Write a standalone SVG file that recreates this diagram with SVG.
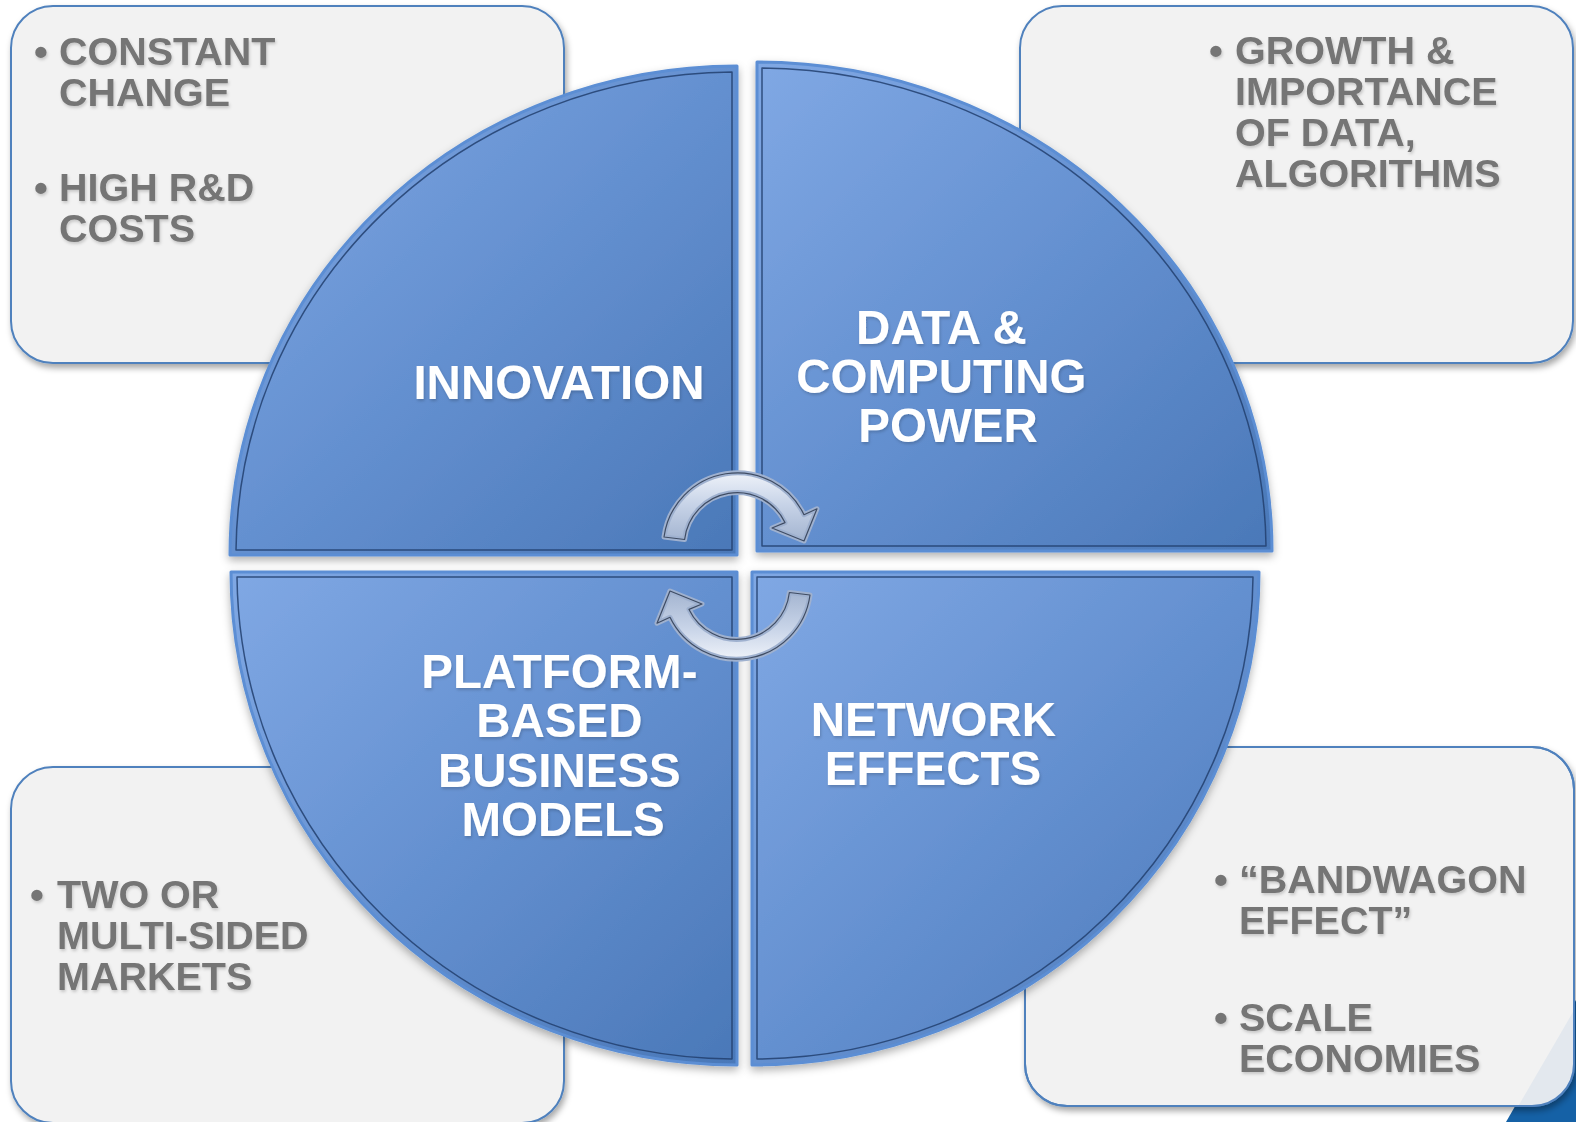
<svg xmlns="http://www.w3.org/2000/svg" width="1576" height="1122" viewBox="0 0 1576 1122">
  <defs>
    <style>
      .box { fill: #f2f2f2; stroke: #4f81bd; stroke-width: 2; }
      .note { font-family: "Liberation Sans", Arial, sans-serif; font-weight: bold; font-size: 39.5px; fill: #757575; }
      .label { font-family: "Liberation Sans", Arial, sans-serif; font-weight: bold; font-size: 47.5px; fill: #ffffff; text-anchor: middle; }
      .quad { stroke: #5b8ed4; stroke-width: 3; stroke-linejoin: round; }
      .quad-inner { fill: none; stroke: #22406e; stroke-width: 1.5; stroke-linejoin: round; opacity: 0.85; }
      .arrow { stroke: #9fb1cf; stroke-width: 5; stroke-linejoin: round; }
      .arrow-line { fill: none; stroke: #3f4c63; stroke-width: 1.2; stroke-linejoin: round; }
    </style>
    <linearGradient id="quadFill" x1="0" y1="0" x2="1" y2="1">
      <stop offset="0" stop-color="#80a8e4"/>
      <stop offset="0.5" stop-color="#6490d0"/>
      <stop offset="1" stop-color="#4a78b8"/>
    </linearGradient>
    <linearGradient id="arrowFill" x1="0" y1="0" x2="0" y2="1">
      <stop offset="0" stop-color="#eef2f9"/>
      <stop offset="0.45" stop-color="#c8d4e8"/>
      <stop offset="1" stop-color="#a3b4d0"/>
    </linearGradient>
    <filter id="boxShadow" x="-10%" y="-10%" width="120%" height="125%">
      <feDropShadow dx="2" dy="4" stdDeviation="3" flood-color="#000" flood-opacity="0.35"/>
    </filter>
    <filter id="quadShadow" x="-10%" y="-10%" width="120%" height="125%">
      <feDropShadow dx="0" dy="4" stdDeviation="4" flood-color="#000" flood-opacity="0.3"/>
    </filter>
    <filter id="textShadow" x="-5%" y="-20%" width="110%" height="150%">
      <feDropShadow dx="1" dy="2" stdDeviation="1.5" flood-color="#000" flood-opacity="0.18"/>
    </filter>
    <clipPath id="brClip">
      <rect x="1025" y="747" width="549" height="359" rx="42" ry="42"/>
    </clipPath>
    <!-- one curved cycle arrow; the second is this shape turned half a turn -->
    <path id="cycleArrow" d="M664 537 A74 74 0 0 1 804 514.7 L817 508.8 L804 541 L772 528 L785 522.6 A53 53 0 0 0 684.6 539.5 Z"/>
  </defs>

  <rect width="1576" height="1122" fill="#ffffff"/>

  <!-- corner decoration -->
  <polygon points="1506,1122 1576,1000 1576,1122" fill="#1561a6"/>

  <!-- side note boxes -->
  <g id="note-innovation">
    <rect class="box" x="11" y="6" width="553" height="357" rx="42" ry="42" filter="url(#boxShadow)"/>
    <text class="note" filter="url(#textShadow)">
      <tspan x="34" y="65">•</tspan><tspan x="59" y="65">CONSTANT</tspan>
      <tspan x="59" y="106">CHANGE</tspan>
      <tspan x="34" y="201">•</tspan><tspan x="59" y="201">HIGH R&amp;D</tspan>
      <tspan x="59" y="242">COSTS</tspan>
    </text>
  </g>

  <g id="note-data">
    <rect class="box" x="1020" y="6" width="553" height="357" rx="42" ry="42" filter="url(#boxShadow)"/>
    <text class="note" filter="url(#textShadow)">
      <tspan x="1209" y="64">•</tspan><tspan x="1235" y="64">GROWTH &amp;</tspan>
      <tspan x="1235" y="105">IMPORTANCE</tspan>
      <tspan x="1235" y="146">OF DATA,</tspan>
      <tspan x="1235" y="187">ALGORITHMS</tspan>
    </text>
  </g>

  <g id="note-platform">
    <rect class="box" x="11" y="767" width="553" height="356" rx="42" ry="42" filter="url(#boxShadow)"/>
    <text class="note" filter="url(#textShadow)">
      <tspan x="30" y="908">•</tspan><tspan x="57" y="908">TWO OR</tspan>
      <tspan x="57" y="949">MULTI-SIDED</tspan>
      <tspan x="57" y="990">MARKETS</tspan>
    </text>
  </g>

  <g id="note-network">
    <rect class="box" x="1025" y="747" width="549" height="359" rx="42" ry="42" filter="url(#boxShadow)"/>
    <polygon points="1516,1110 1580,1000 1580,1110" fill="#e3e8ee" clip-path="url(#brClip)"/>
    <rect x="1025" y="747" width="549" height="359" rx="42" ry="42" fill="none" stroke="#4f81bd" stroke-width="2"/>
    <text class="note" filter="url(#textShadow)">
      <tspan x="1214" y="893">•</tspan><tspan x="1239" y="893">“BANDWAGON</tspan>
      <tspan x="1239" y="934">EFFECT”</tspan>
      <tspan x="1214" y="1031">•</tspan><tspan x="1239" y="1031">SCALE</tspan>
      <tspan x="1239" y="1072">ECONOMIES</tspan>
    </text>
  </g>

  <!-- four quadrants of the central disc -->
  <g id="quad-innovation">
    <path class="quad" d="M737 555 L230 555 A507 489 0 0 1 737 66 Z" fill="url(#quadFill)" filter="url(#quadShadow)"/>
    <path class="quad-inner" d="M732 550 L236 550 A501 483 0 0 1 732 72 Z"/>
    <text class="label" x="559" y="399" filter="url(#textShadow)">INNOVATION</text>
  </g>

  <g id="quad-data">
    <path class="quad" d="M757 551 L757 62 A515 489 0 0 1 1272 551 Z" fill="url(#quadFill)" filter="url(#quadShadow)"/>
    <path class="quad-inner" d="M762 546 L762 68 A509 483 0 0 1 1266 546 Z"/>
    <text class="label" filter="url(#textShadow)">
      <tspan x="948" y="344">DATA &amp;</tspan>
      <tspan x="948" y="393">COMPUTING</tspan>
      <tspan x="948" y="442">POWER</tspan>
    </text>
  </g>

  <g id="quad-platform">
    <path class="quad" d="M737 572 L231 572 A506 493 0 0 0 737 1065 Z" fill="url(#quadFill)" filter="url(#quadShadow)"/>
    <path class="quad-inner" d="M732 577 L237 577 A500 487 0 0 0 732 1059 Z"/>
    <text class="label" filter="url(#textShadow)">
      <tspan x="566" y="688">PLATFORM-</tspan>
      <tspan x="566" y="737">BASED</tspan>
      <tspan x="566" y="787">BUSINESS</tspan>
      <tspan x="563" y="836">MODELS</tspan>
    </text>
  </g>

  <g id="quad-network">
    <path class="quad" d="M752 572 L1259 572 A507 493 0 0 1 752 1065 Z" fill="url(#quadFill)" filter="url(#quadShadow)"/>
    <path class="quad-inner" d="M757 577 L1253 577 A501 487 0 0 1 757 1059 Z"/>
    <text class="label" filter="url(#textShadow)">
      <tspan x="940" y="736">NETWORK</tspan>
      <tspan x="933" y="785">EFFECTS</tspan>
    </text>
  </g>

  <!-- cycle arrows -->
  <g id="connectors">
    <g id="arrow-top">
      <use href="#cycleArrow" class="arrow" fill="url(#arrowFill)"/>
      <use href="#cycleArrow" class="arrow-line"/>
    </g>
    <g id="arrow-bottom" transform="rotate(180 737 566)">
      <use href="#cycleArrow" class="arrow" fill="url(#arrowFill)"/>
      <use href="#cycleArrow" class="arrow-line"/>
    </g>
  </g>
</svg>
